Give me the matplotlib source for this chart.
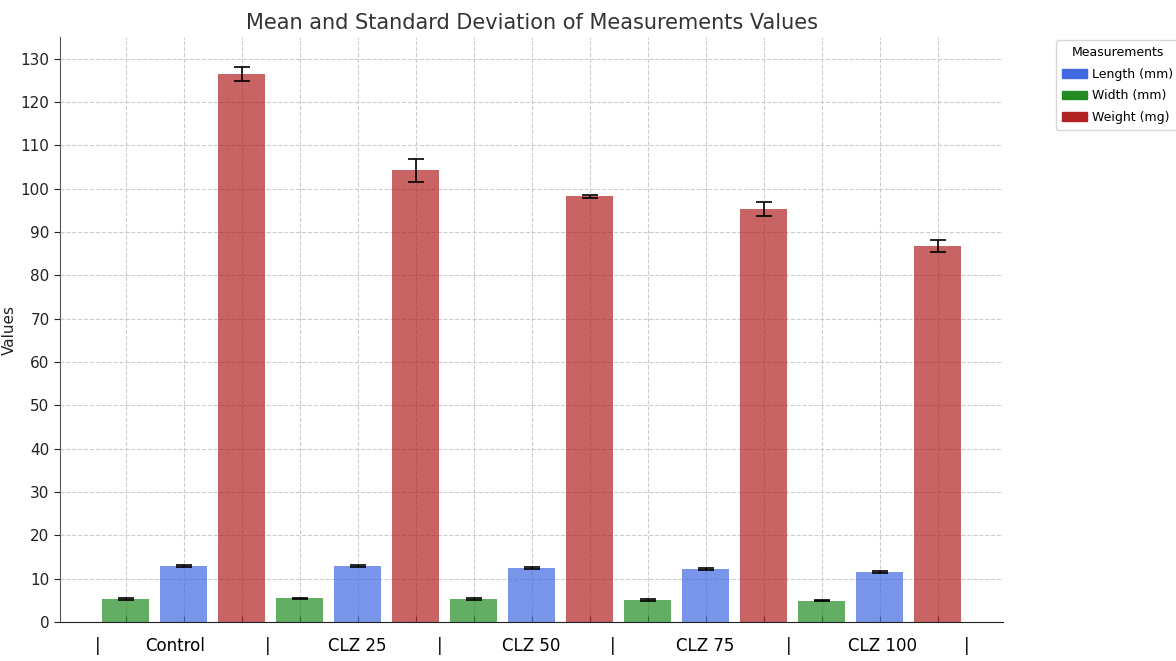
import matplotlib.pyplot as plt
import numpy as np
from matplotlib.patches import Patch

# Data ==============================
groups = ['Control', 'CLZ 25', 'CLZ 50', 'CLZ 75', 'CLZ 100']
width_mean = [5.3, 5.5, 5.3, 5.1, 4.9]
width_sd = [0.15, 0.15, 0.2, 0.15, 0.1]
length_mean = [12.9, 12.9, 12.4, 12.2, 11.5]
length_sd = [0.3, 0.3, 0.2, 0.2, 0.3]
weight_mean = [126.5, 104.2, 98.2, 95.3, 86.7]
weight_sd = [1.6, 2.6, 0.4, 1.7, 1.4]

c_len = 'royalblue'
c_wid = 'forestgreen'
c_wei = 'firebrick'

fig = plt.figure(figsize=(11.76, 6.61), dpi=100)
ax = fig.add_axes([0.051, 0.059, 0.802, 0.885])

# bars laid out as width, length, weight inside each group
pos = np.arange(len(groups)) * 3
ekw = dict(ecolor='black', capsize=6, error_kw=dict(elinewidth=1.2, capthick=1.2))
ax.bar(pos, width_mean, 0.8, yerr=width_sd, color=c_wid, alpha=0.7, zorder=2, **ekw)
ax.bar(pos + 1, length_mean, 0.8, yerr=length_sd, color=c_len, alpha=0.7, zorder=2, **ekw)
ax.bar(pos + 2, weight_mean, 0.8, yerr=weight_sd, color=c_wei, alpha=0.7, zorder=2, **ekw)

ax.set_xlim(-1.13, 15.13)
ax.set_ylim(0, 135)
ax.set_yticks(np.arange(0, 131, 10))
ax.set_xticks(np.arange(15))
ax.set_xticklabels([''] * 15)
ax.tick_params(axis='x', direction='in', length=4, color='#333333')
ax.tick_params(axis='y', labelsize=11, colors='#222222', length=4)
ax.grid(True, linestyle='--', color='#cccccc', linewidth=0.8, zorder=0)
ax.set_axisbelow(True)
for s in ['top', 'right']:
    ax.spines[s].set_visible(False)
ax.spines['left'].set_color('#555555')
ax.spines['bottom'].set_color('#222222')

# group labels and separators under the axis
seps = [-0.48, 2.45, 5.41, 8.4, 11.43, 14.5]
for s in seps:
    ax.text(s, -5.5, '|', ha='center', va='center', fontsize=12, clip_on=False)
for p, g in zip([0.86, 4.0, 7.0, 10.0, 13.05], groups):
    ax.text(p, -5.5, g, ha='center', va='center', fontsize=12, clip_on=False)

ax.set_ylabel('Values', fontsize=11, color='#222222', labelpad=3)
ax.set_title('Mean and Standard Deviation of Measurements Values', fontsize=15, color='#333333', pad=6)

handles = [Patch(color=c_len), Patch(color=c_wid), Patch(color=c_wei)]
ax.legend(handles, ['Length (mm)', 'Width (mm)', 'Weight (mg)'], title='Measurements',
          loc='upper left', bbox_to_anchor=(0.898, 0.94), bbox_transform=fig.transFigure,
          fontsize=9, title_fontsize=9, handletextpad=0.4, borderaxespad=0, borderpad=0.5,
          labelspacing=0.7)

plt.savefig('out.png', dpi=100)
plt.close()
